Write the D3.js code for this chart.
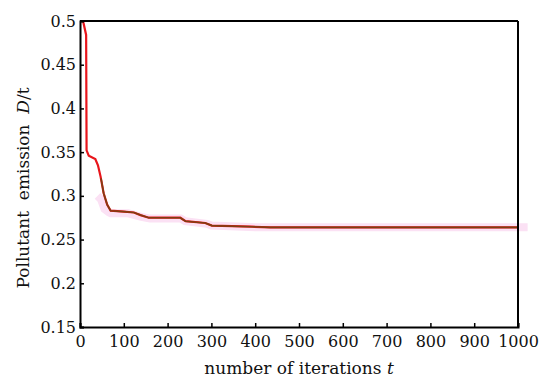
<!DOCTYPE html>
<html><head><meta charset="utf-8">
<script src="https://cdn.jsdelivr.net/npm/d3@7"></script>
<style>body{margin:0;background:#fff}svg{display:block}</style>
</head><body>
<svg id="c" width="550" height="384"></svg>
<script>
// Iterations and pollutant emission (red series, full run)
const redIter = [7, 14, 15, 20, 35, 41, 47, 54, 62, 70, 100, 123, 138, 157, 229, 241, 286, 301, 393, 434, 1000];
const redEmis = [0.500, 0.484, 0.352, 0.346, 0.342, 0.335, 0.322, 0.303, 0.290, 0.283, 0.282, 0.281, 0.278, 0.275, 0.275, 0.271, 0.269, 0.266, 0.2647, 0.264, 0.264];
// Brown series (overlaps the red one after the fast drop)
const brownIter = [48, 54, 62, 70, 100, 123, 138, 157, 229, 241, 286, 301, 393, 434, 1000];
const brownEmis = [0.320, 0.303, 0.290, 0.283, 0.282, 0.281, 0.278, 0.275, 0.275, 0.271, 0.269, 0.266, 0.2647, 0.264, 0.264];
// Light pink band series
const bandIter = [40, 48, 56, 66, 70, 110, 140, 160, 230, 240, 290, 300, 400, 1022];
const bandEmis = [0.300, 0.296, 0.285, 0.281, 0.280, 0.280, 0.276, 0.274, 0.274, 0.271, 0.268, 0.266, 0.264, 0.264];

const xTicks = [0,100,200,300,400,500,600,700,800,900,1000];
const yTicks = [0.15,0.2,0.25,0.3,0.35,0.4,0.45,0.5];

const svg = d3.select("#c");
const L = 80, R = 518, T = 21, B = 327;
const x = d3.scaleLinear().domain([0,1000]).range([L,R]);
const y = d3.scaleLinear().domain([0.15,0.5]).range([B,T]);
const font = "DejaVu Serif";

const line = d3.line().x(d=>x(d[0])).y(d=>y(d[1]));
const zip = (a,b)=>a.map((v,i)=>[v,b[i]]);

svg.append("path").attr("d", line(zip(bandIter,bandEmis)))
  .attr("fill","none").attr("stroke","#fbe1f4").attr("stroke-width",8).attr("stroke-linejoin","miter");
svg.append("path").attr("d", line(zip(redIter,redEmis)))
  .attr("fill","none").attr("stroke","#e8151b").attr("stroke-width",2.2);
svg.append("path").attr("d", line(zip(brownIter,brownEmis)))
  .attr("fill","none").attr("stroke","#7e3f12").attr("stroke-width",1.6);

// frame
svg.append("line").attr("x1",L).attr("x2",R).attr("y1",T).attr("y2",T).attr("stroke","#000").attr("stroke-width",2);
svg.append("line").attr("x1",R).attr("x2",R).attr("y1",T).attr("y2",B).attr("stroke","#000").attr("stroke-width",2);

const xa = svg.append("g").attr("transform",`translate(0,${B})`)
  .call(d3.axisBottom(x).tickValues(xTicks).tickSize(-4).tickPadding(9).tickFormat(d3.format("d")));
const ya = svg.append("g").attr("transform",`translate(${L},0)`)
  .call(d3.axisLeft(y).tickValues(yTicks).tickSize(-4).tickPadding(4).tickFormat(d=>String(+d.toFixed(2))));
[xa,ya].forEach(g=>{
  g.select(".domain").attr("stroke","#000").attr("stroke-width",2);
  g.selectAll(".tick line").attr("stroke","#000").attr("stroke-width",1.5);
  g.selectAll("text").attr("font-family",font).attr("font-size",16).attr("fill","#111");
});

svg.append("text").attr("x",299).attr("y",374).attr("text-anchor","middle")
  .attr("font-family",font).attr("font-size",17).attr("fill","#111")
  .html('number of iterations <tspan font-style="italic">t</tspan>');
svg.append("text").attr("transform","translate(29,188) rotate(-90)").attr("text-anchor","middle")
  .attr("font-family",font).attr("font-size",17).attr("fill","#111")
  .html('Pollutant&#160; emission&#160; <tspan font-style="italic">D</tspan>/t');
</script>
</body></html>
